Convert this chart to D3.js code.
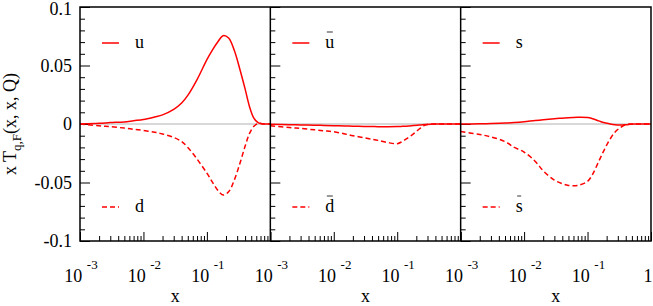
<!DOCTYPE html>
<html>
<head>
<meta charset="utf-8">
<script src="https://cdn.jsdelivr.net/npm/d3@7"></script>
<style>
  body { margin: 0; background: #fff; }
  svg { display: block; }
</style>
</head>
<body>
<div id="chart"></div>
<script>
// x grid shared by all curves
const xs = [0.001, 0.002, 0.003, 0.005, 0.007, 0.01, 0.015, 0.02, 0.03, 0.04, 0.05, 0.07,
  0.1, 0.12, 0.15, 0.18, 0.22, 0.27, 0.33, 0.4, 0.47, 0.55, 0.65, 0.8, 1.0];

const uVals = [0, 0.0006, 0.0012, 0.0018, 0.0028, 0.0038, 0.006, 0.0078, 0.0125, 0.018, 0.0245, 0.038,
  0.055, 0.0625, 0.0705, 0.0755, 0.0735, 0.063, 0.047, 0.030, 0.0148, 0.005, 0.001, 0, 0];
const dVals = [0, -0.0015, -0.0023, -0.0035, -0.0045, -0.0055, -0.007, -0.0085, -0.0115, -0.015, -0.020, -0.030,
  -0.042, -0.049, -0.057, -0.0607, -0.058, -0.048, -0.034, -0.019, -0.008, -0.002, 0.0005, 0, 0];
const ubarVals = [-0.0003, -0.0006, -0.0008, -0.001, -0.0012, -0.0014, -0.0017, -0.0019, -0.0021, -0.0022, -0.0023, -0.0023,
  -0.0022, -0.002, -0.0017, -0.0013, -0.0009, -0.0005, -0.0002, 0, 0, 0, 0, 0, 0];
const dbarVals = [-0.0015, -0.003, -0.0038, -0.005, -0.0058, -0.0066, -0.0085, -0.010, -0.0118, -0.013, -0.014, -0.0158,
  -0.0168, -0.015, -0.0115, -0.0085, -0.0045, -0.0012, 0, 0, 0, 0, 0, 0, 0];
const sVals = [0, 0.0002, 0.0004, 0.0008, 0.0013, 0.002, 0.003, 0.0036, 0.0045, 0.005, 0.0054, 0.0057,
  0.0055, 0.0045, 0.0027, 0.0012, 0.0002, -0.0006, -0.0008, -0.0006, -0.0003, 0, 0, 0, 0];
const sbarVals = [-0.0065, -0.009, -0.011, -0.015, -0.020, -0.024, -0.032, -0.040, -0.048, -0.051, -0.0525, -0.0525,
  -0.049, -0.043, -0.032, -0.023, -0.014, -0.007, -0.003, -0.0005, 0, 0, 0, 0, 0];

const yTicks = [0.1, 0.05, 0, -0.05, -0.1];
const yTickLabels = ['0.1', '0.05', '0', '-0.05', '-0.1'];
const xTickValues = [0.001, 0.01, 0.1, 1];
const xTickExps = ['-3', '-2', '-1', ''];

const panels = [
  { solid: uVals, dashed: dVals, solidName: 'u', dashedName: 'd', solidBar: false, dashedBar: false },
  { solid: ubarVals, dashed: dbarVals, solidName: 'u', dashedName: 'd', solidBar: true, dashedBar: true },
  { solid: sVals, dashed: sbarVals, solidName: 's', dashedName: 's', solidBar: false, dashedBar: true }
];

const width = 653, height = 306;
const mLeft = 80, mTop = 7, pw = 190.33, ph = 234;
const font = "'Liberation Serif', 'Times New Roman', serif";

const svg = d3.select('#chart').append('svg')
  .attr('width', width)
  .attr('height', height)
  .attr('font-family', font);

const y = d3.scaleLinear().domain([-0.1, 0.1]).range([mTop + ph, mTop]);

const minorTicks = [];
[0.001, 0.01, 0.1].forEach(d => { for (let k = 2; k <= 9; k++) minorTicks.push(d * k); });
const yMinor = d3.range(-9, 10).map(i => i / 100).filter(v => Math.abs(v) !== 0.05 && v !== 0);

panels.forEach((p, i) => {
  const x0 = mLeft + i * pw;
  const x = d3.scaleLog().domain([0.001, 1]).range([x0, x0 + pw]);
  const g = svg.append('g');

  // zero line
  g.append('line')
    .attr('x1', x0).attr('x2', x0 + pw)
    .attr('y1', y(0)).attr('y2', y(0))
    .attr('stroke', '#b0b0b0').attr('stroke-width', 1);

  // ticks (inward)
  const axY = g.append('g').attr('transform', `translate(${x0},0)`)
    .call(d3.axisLeft(y).tickValues(yTicks).tickSize(-10).tickFormat(''));
  const axYm = g.append('g').attr('transform', `translate(${x0},0)`)
    .call(d3.axisLeft(y).tickValues(yMinor).tickSize(-5).tickFormat(''));
  const axX = g.append('g').attr('transform', `translate(0,${mTop + ph})`)
    .call(d3.axisBottom(x).tickValues(xTickValues).tickSize(-9).tickFormat(''));
  const axXm = g.append('g').attr('transform', `translate(0,${mTop + ph})`)
    .call(d3.axisBottom(x).tickValues(minorTicks).tickSize(-5).tickFormat(''));
  [axY, axYm, axX, axXm].forEach(a => {
    a.select('.domain').remove();
    a.selectAll('line').attr('stroke', '#000').attr('stroke-width', 1);
  });

  const line = d3.line()
    .x((d, j) => x(xs[j]))
    .y(d => y(d))
    .curve(d3.curveCatmullRom.alpha(0.5));

  g.append('path')
    .attr('d', line(p.solid))
    .attr('fill', 'none').attr('stroke', '#ff0000').attr('stroke-width', 1.5);
  g.append('path')
    .attr('d', line(p.dashed))
    .attr('fill', 'none').attr('stroke', '#ff0000').attr('stroke-width', 1.5)
    .attr('stroke-dasharray', '5,3');

  // legend
  const legend = [
    { name: p.solidName, ly: 43, dash: null, bar: p.solidBar },
    { name: p.dashedName, ly: 207, dash: '5,3', bar: p.dashedBar }
  ];
  legend.forEach(l => {
    g.append('line')
      .attr('x1', x0 + 22).attr('x2', x0 + 39)
      .attr('y1', l.ly).attr('y2', l.ly)
      .attr('stroke', '#ff0000').attr('stroke-width', 1.5)
      .attr('stroke-dasharray', l.dash);
    const t = g.append('text')
      .attr('x', x0 + 55).attr('y', l.ly + 5)
      .attr('font-size', 18)
      .text(l.name);
    if (l.bar) {
      const bb = t.node().getBBox();
      g.append('line')
        .attr('x1', bb.x + 1.5).attr('x2', bb.x + bb.width - 1.5)
        .attr('y1', l.ly - 11).attr('y2', l.ly - 11)
        .attr('stroke', '#000').attr('stroke-width', 0.8);
    }
  });

  // x tick labels
  xTickValues.forEach((v, j) => {
    if (j === 3 && i < 2) return;
    const t = svg.append('text')
      .attr('x', j === 3 ? x(v) - 3 : x(v) + 1).attr('y', 282)
      .attr('text-anchor', 'middle')
      .attr('font-size', 18);
    if (xTickExps[j]) {
      t.append('tspan').text('10 ');
      t.append('tspan').attr('dy', -13).attr('font-size', 13).text(xTickExps[j]);
    } else {
      t.text('1');
    }
  });

  svg.append('text')
    .attr('x', x0 + pw / 2).attr('y', 302)
    .attr('text-anchor', 'middle')
    .attr('font-size', 18)
    .text('x');
});

// frame and separators
svg.append('rect')
  .attr('x', mLeft).attr('y', mTop)
  .attr('width', pw * 3).attr('height', ph)
  .attr('fill', 'none').attr('stroke', '#000').attr('stroke-width', 1.5);
[1, 2].forEach(i => {
  svg.append('line')
    .attr('x1', mLeft + i * pw).attr('x2', mLeft + i * pw)
    .attr('y1', mTop).attr('y2', mTop + ph)
    .attr('stroke', '#000').attr('stroke-width', 1.5);
});

// y tick labels
yTicks.forEach((v, j) => {
  svg.append('text')
    .attr('x', 72).attr('y', y(v) + (j === 0 ? 2 : 0))
    .attr('dy', '0.35em')
    .attr('text-anchor', 'end')
    .attr('font-size', 18)
    .text(yTickLabels[j]);
});

// y axis title
const yt = svg.append('text')
  .attr('transform', 'translate(16,124) rotate(-90)')
  .attr('text-anchor', 'middle')
  .attr('font-size', 18);
yt.append('tspan').text('x T');
yt.append('tspan').attr('dy', 5).attr('font-size', 13).text('q,F');
yt.append('tspan').attr('dy', -5).text('(x, x, Q)');
</script>
</body>
</html>
